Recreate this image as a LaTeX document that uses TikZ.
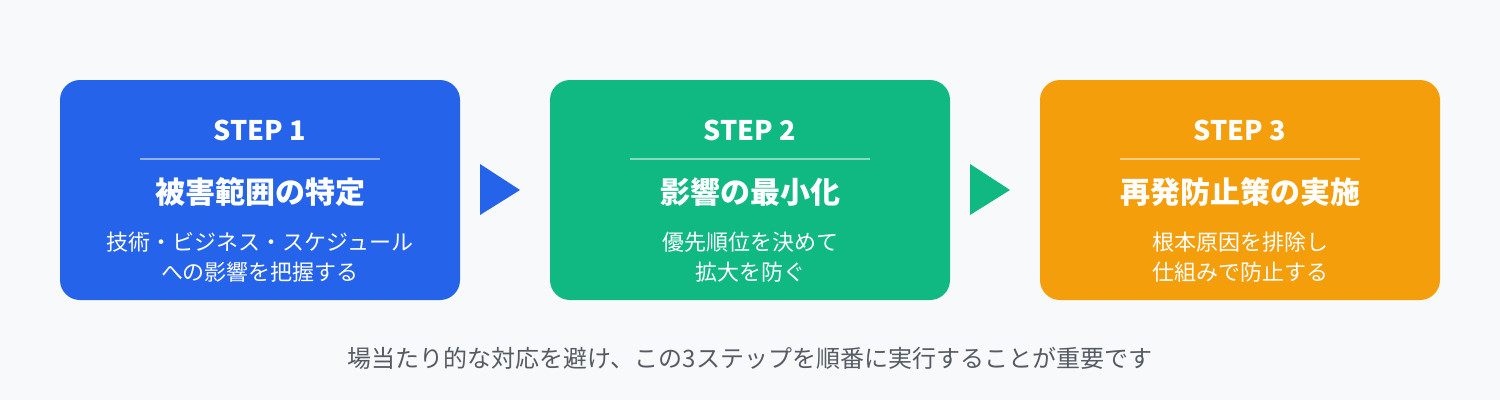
\documentclass[tikz,border=0pt]{standalone}
\usepackage{fontspec}
\setmainfont{Noto Sans CJK JP}
\definecolor{bgc}{HTML}{F8F9FB}
\definecolor{cblue}{HTML}{2563EB}
\definecolor{cgreen}{HTML}{10B981}
\definecolor{corange}{HTML}{F59E0B}
\definecolor{ctext}{HTML}{555B63}
\begin{document}
\begin{tikzpicture}[x=1pt,y=-1pt,
  stepbox/.style={rounded corners=20pt, minimum width=400pt, minimum height=220pt, inner sep=0pt, draw=none},
  steplabel/.style={text=white, font=\bfseries\fontsize{27}{30}\selectfont, inner sep=0pt},
  titlelabel/.style={text=white, font=\bfseries\fontsize{30}{34}\selectfont, inner sep=0pt},
  desclabel/.style={text=white, font=\fontsize{22}{30}\selectfont, align=center, inner sep=0pt},
  divider/.style={draw=white, draw opacity=0.5, line width=1.2pt},
  arrowtri/.style={draw=none}
]
\fill[bgc] (0,0) rectangle (1500,400);
\useasboundingbox (0,0) rectangle (1500,400);

\foreach \i/\cx/\col/\st/\ti/\de in {
  1/260/cblue/STEP 1/被害範囲の特定/{技術・ビジネス・スケジュール\\への影響を把握する},
  2/750/cgreen/STEP 2/影響の最小化/{優先順位を決めて\\拡大を防ぐ},
  3/1240/corange/STEP 3/再発防止策の実施/{根本原因を排除し\\仕組みで防止する}} {
  \node[stepbox, fill=\col] (b\i) at (\cx,190) {};
  \node[steplabel] (s\i) at (\cx,130) {\st};
  \coordinate (dl\i) at (\cx-120,159);
  \coordinate (dr\i) at (\cx+120,159);
  \draw[divider] (dl\i) -- (dr\i);
  \node[titlelabel] (t\i) at (\cx,192) {\ti};
  \node[desclabel] (d\i) at (\cx,257.5) {\de};
}

\fill[cblue] (480,164) -- (520,190) -- (480,215) -- cycle;
\fill[cgreen] (970,164) -- (1010,190) -- (970,215) -- cycle;

\node[text=ctext, font=\fontsize{24}{28}\selectfont, inner sep=0pt] (note) at (750,358) {場当たり的な対応を避け、この3ステップを順番に実行することが重要です};
\end{tikzpicture}
\end{document}
